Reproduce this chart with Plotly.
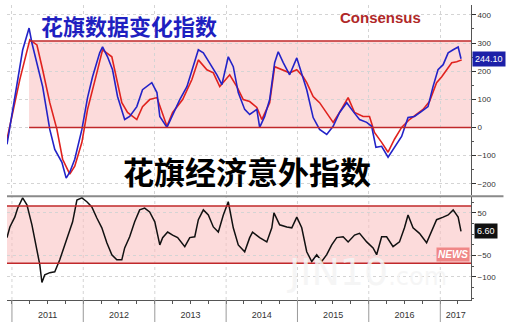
import plotly.graph_objects as go
import pandas as pd

# ---------------- data (decimal years, values) ----------------
blue_t = [2010.93, 2011.15, 2011.24, 2011.28, 2011.43, 2011.53, 2011.60, 2011.70, 2011.76, 2011.81,
          2011.88, 2011.98, 2012.06, 2012.13, 2012.23, 2012.27, 2012.34, 2012.41, 2012.48, 2012.58,
          2012.65, 2012.75, 2012.83, 2012.96, 2013.03, 2013.07, 2013.17, 2013.24, 2013.35, 2013.45,
          2013.54, 2013.61, 2013.68, 2013.77, 2013.87, 2013.94, 2014.03, 2014.10, 2014.17, 2014.26,
          2014.33, 2014.43, 2014.47, 2014.54, 2014.61, 2014.68, 2014.73, 2014.80, 2014.89, 2014.99,
          2015.06, 2015.13, 2015.22, 2015.31, 2015.41, 2015.50, 2015.59, 2015.69, 2015.78, 2015.87,
          2015.97, 2016.04, 2016.10, 2016.18, 2016.27, 2016.36, 2016.46, 2016.55, 2016.64, 2016.74,
          2016.83, 2016.90, 2016.97, 2017.04, 2017.11, 2017.18, 2017.25, 2017.29]
blue_v = [-60, 275, 353, 300, 145, -7, -78, -124, -180, -159,
          -113, -7, 106, 180, 265, 286, 251, 205, 110, 28,
          39, 74, 134, 159, 124, 39, 0, 39, 99, 145,
          216, 276, 265, 230, 187, 152, 251, 216, 124, 64,
          46, 64, 0, 39, 99, 230, 269, 230, 187, 247,
          194, 134, 35, -7, -25, 4, 53, 88, 57, 28,
          18, 4, -71, -67, -106, -71, -32, 35, 39, 57,
          74, 145, 205, 223, 265, 276, 286, 244.1]

red_t = [2010.93, 2011.11, 2011.25, 2011.35, 2011.43, 2011.53, 2011.63, 2011.71, 2011.81, 2011.88,
         2011.98, 2012.06, 2012.19, 2012.27, 2012.40, 2012.47, 2012.54, 2012.62, 2012.75, 2012.83,
         2012.93, 2013.03, 2013.10, 2013.17, 2013.25, 2013.39, 2013.52, 2013.61, 2013.73, 2013.82,
         2013.91, 2014.05, 2014.15, 2014.24, 2014.33, 2014.43, 2014.50, 2014.61, 2014.68, 2014.78,
         2014.89, 2014.99, 2015.08, 2015.13, 2015.22, 2015.31, 2015.41, 2015.50, 2015.59, 2015.71,
         2015.80, 2015.92, 2016.01, 2016.08, 2016.18, 2016.27, 2016.36, 2016.46, 2016.57, 2016.67,
         2016.76, 2016.85, 2016.95, 2017.02, 2017.09, 2017.16, 2017.23, 2017.30]
red_v = [-42, 170, 311, 293, 205, 88, -7, -113, -166, -138,
         -53, 64, 194, 276, 251, 170, 88, 53, 28, 74,
         99, 106, 53, 4, 53, 99, 170, 240, 205, 194,
         145, 187, 145, 99, 92, 71, 28, 88, 216, 205,
         194, 205, 180, 159, 110, 88, 53, 18, 53, 106,
         53, 39, 39, -18, -53, -88, -42, 0, 28, 46,
         64, 92, 159, 180, 205, 230, 233, 240]

diff_t = [2010.93, 2010.97, 2011.04, 2011.08, 2011.15, 2011.21, 2011.28, 2011.35, 2011.39, 2011.42,
          2011.46, 2011.53, 2011.60, 2011.67, 2011.74, 2011.81, 2011.85, 2011.91, 2011.98, 2012.05,
          2012.12, 2012.19, 2012.26, 2012.33, 2012.40, 2012.47, 2012.54, 2012.58, 2012.65, 2012.72,
          2012.79, 2012.86, 2012.93, 2013.00, 2013.07, 2013.11, 2013.18, 2013.25, 2013.32, 2013.42,
          2013.49, 2013.56, 2013.61, 2013.68, 2013.75, 2013.82, 2013.89, 2013.96, 2014.03, 2014.10,
          2014.17, 2014.26, 2014.33, 2014.37, 2014.47, 2014.57, 2014.64, 2014.67, 2014.75, 2014.85,
          2014.92, 2014.99, 2015.06, 2015.13, 2015.20, 2015.27, 2015.34, 2015.41, 2015.48, 2015.55,
          2015.64, 2015.71, 2015.80, 2015.87, 2015.97, 2016.06, 2016.11, 2016.18, 2016.25, 2016.34,
          2016.43, 2016.50, 2016.55, 2016.62, 2016.71, 2016.81, 2016.88, 2016.95, 2017.04, 2017.11,
          2017.18, 2017.25, 2017.29]
diff_v = [-8, 17, 40, 61, 85, 69, 22, -32, -71, -113,
          -95, -90, -88, -60, -25, 5, 29, 80, 85, 76,
          64, 38, 15, -20, -48, -60, -60, -32, -6, 29,
          57, 61, 52, 29, -25, -8, 5, -2, -8, -29,
          -8, -6, 34, 57, 45, 17, 5, 45, 76, 15,
          -25, -41, -8, 5, -8, -18, 15, 50, 22, 17,
          15, 40, 15, -41, -64, -48, -64, -48, -25, -8,
          -6, -18, -2, 2, -18, -32, -48, -6, -6, -29,
          -18, 15, 45, 15, 2, -20, 5, 34, 40, 45,
          57, 40, 6.6]

band_top = [0, 307]      # top panel band (value range)
band_bottom = [-68, 66]  # bottom panel band
band_top_start = 2011.24
top_ticks = [400, 300, 200, 100, 0, -100, -200]
bottom_ticks = [50, -50, -100]
years = [2011, 2012, 2013, 2014, 2015, 2016, 2017]
x_start, x_end = 2010.93, 2017.43


def to_date(t):
    y = int(t)
    return pd.Timestamp(year=y, month=1, day=1) + pd.Timedelta(days=(t - y) * 365.25)


bx = [to_date(t) for t in blue_t]
rx = [to_date(t) for t in red_t]
dx = [to_date(t) for t in diff_t]

BLUE = "#2323C8"
RED = "#E0221E"
BAND_LINE = "#C0282A"
BAND_FILL = "rgba(250,190,190,0.55)"
GRID = "#d4d4d4"

TOP_DOM = [0.356, 1.0]
BOT_DOM = [0.0, 0.349]

fig = go.Figure()
fig.add_trace(go.Scatter(x=rx, y=red_v, mode="lines", line=dict(color=RED, width=1.6),
                         xaxis="x", yaxis="y", showlegend=False))
fig.add_trace(go.Scatter(x=bx, y=blue_v, mode="lines", line=dict(color=BLUE, width=1.6),
                         xaxis="x", yaxis="y", showlegend=False))
fig.add_trace(go.Scatter(x=dx, y=diff_v, mode="lines", line=dict(color="#111111", width=1.5),
                         xaxis="x2", yaxis="y2", showlegend=False))

x0d, x1d = to_date(x_start), to_date(x_end)
shapes = [
    dict(type="rect", xref="x", yref="y", x0=to_date(band_top_start), x1=x1d,
         y0=band_top[0], y1=band_top[1], fillcolor=BAND_FILL, line=dict(width=0), layer="below"),
    dict(type="line", xref="x", yref="y", x0=to_date(band_top_start), x1=x1d,
         y0=band_top[0], y1=band_top[0], line=dict(color=BAND_LINE, width=1.5)),
    dict(type="line", xref="x", yref="y", x0=to_date(band_top_start), x1=x1d,
         y0=band_top[1], y1=band_top[1], line=dict(color=BAND_LINE, width=1.5)),
    dict(type="rect", xref="x2", yref="y2", x0=x0d, x1=x1d,
         y0=band_bottom[0], y1=band_bottom[1], fillcolor=BAND_FILL, line=dict(width=0), layer="below"),
    dict(type="line", xref="x2", yref="y2", x0=x0d, x1=x1d,
         y0=band_bottom[0], y1=band_bottom[0], line=dict(color=BAND_LINE, width=1.5)),
    dict(type="line", xref="x2", yref="y2", x0=x0d, x1=x1d,
         y0=band_bottom[1], y1=band_bottom[1], line=dict(color=BAND_LINE, width=1.5)),
    dict(type="line", xref="paper", yref="paper", x0=0, x1=1.07, y0=0.352, y1=0.352,
         line=dict(color="#8a8a8a", width=2)),
]
for yr in years:
    xd = pd.Timestamp(year=yr, month=1, day=1)
    shapes.append(dict(type="line", xref="x2", yref="paper", x0=xd, x1=xd,
                       y0=BOT_DOM[0], y1=BOT_DOM[1], line=dict(color=GRID, width=1, dash="dot"),
                       layer="below"))
    shapes.append(dict(type="line", xref="x2", yref="paper", x0=xd, x1=xd,
                       y0=-0.075, y1=0, line=dict(color="#999999", width=1)))

annotations = [
    dict(text="<b>花旗数据变化指数</b>", x=0.07, y=0.932, xref="paper", yref="paper",
         xanchor="left", yanchor="middle", showarrow=False,
         font=dict(family="Noto Sans CJK SC", size=22, color="#1f1fc0")),
    dict(text="<b>Consensus</b>", x=0.897, y=0.957, xref="paper", yref="paper",
         xanchor="right", yanchor="middle", showarrow=False,
         font=dict(family="Liberation Sans, Arial", size=15, color="#B02828")),
    dict(text="<b>花旗经济意外指数</b>", x=0.245, y=0.44, xref="paper", yref="paper",
         xanchor="left", yanchor="middle", showarrow=False,
         font=dict(family="Noto Sans CJK SC", size=31, color="#000000")),
    dict(text="JIN10<span style='font-size:24px'>.com</span>", x=0.6, y=0.095, xref="paper", yref="paper",
         xanchor="left", yanchor="middle", showarrow=False,
         font=dict(family="DejaVu Sans", size=38, color="rgba(244,244,244,0.85)")),
    dict(text="<b><i>NEWS</i></b>", x=0.997, y=0.155, xref="paper", yref="paper",
         xanchor="right", yanchor="middle", showarrow=False, bgcolor="rgba(235,100,100,0.7)",
         font=dict(family="Liberation Sans", size=10, color="white"), borderpad=1),
    dict(text="244.10", x=1.003, y=blue_v[-1], xref="paper", yref="y",
         xanchor="left", yanchor="middle", showarrow=False, bgcolor="#1c20a8",
         font=dict(family="Liberation Sans", size=9, color="white"), borderpad=2),
    dict(text="6.60", x=1.007, y=diff_v[-1], xref="paper", yref="y2",
         xanchor="left", yanchor="middle", showarrow=False, bgcolor="#111111",
         font=dict(family="Liberation Sans", size=9, color="white"), borderpad=2),
]

label_vals, label_text = [], []
for yr in years:
    a = max(float(yr), x_start)
    b = min(float(yr + 1), x_end)
    label_vals.append(to_date((a + b) / 2))
    label_text.append(str(yr))

axis_font = dict(family="Liberation Sans, Arial", size=8, color="#333333")

fig.update_layout(
    width=508, height=322,
    margin=dict(l=7, r=37, t=5, b=22),
    paper_bgcolor="white", plot_bgcolor="white",
    shapes=shapes, annotations=annotations,
    xaxis=dict(domain=[0, 1], anchor="y", type="date", range=[x0d, x1d],
               showticklabels=False, showgrid=True, gridcolor=GRID, griddash="dot",
               dtick="M12", tick0="2011-01-01", ticks="", showline=False, zeroline=False,
               automargin=False),
    yaxis=dict(domain=TOP_DOM, anchor="x", side="right", range=[-240, 435],
               tickvals=top_ticks, showgrid=True, gridcolor=GRID, griddash="dot",
               ticks="outside", ticklen=4, tickcolor="#333", showline=True, linecolor="#555",
               linewidth=1, zeroline=False, tickfont=axis_font, automargin=False,
               minor=dict(dtick=50, ticks="outside", ticklen=2, tickcolor="#555")),
    xaxis2=dict(domain=[0, 1], anchor="y2", type="date", range=[x0d, x1d],
                tickvals=label_vals, ticktext=label_text, ticks="",
                showgrid=False, showline=True, linecolor="#555", linewidth=1, zeroline=False,
                tickfont=dict(family="Liberation Sans, Arial", size=9, color="#333333"),
                automargin=False, ticklabelstandoff=6,
                minor=dict(dtick="M3", tick0="2011-01-01", ticks="outside", ticklen=3,
                           tickcolor="#555", showgrid=False)),
    yaxis2=dict(domain=BOT_DOM, anchor="x2", side="right", range=[-154, 87],
                tickvals=bottom_ticks, showgrid=True, gridcolor=GRID, griddash="dot",
                ticks="outside", ticklen=4, tickcolor="#333", showline=True, linecolor="#555",
                linewidth=1, zeroline=False, tickfont=axis_font, automargin=False,
                minor=dict(dtick=25, ticks="outside", ticklen=2, tickcolor="#555")),
)

fig.write_html("out.html")
